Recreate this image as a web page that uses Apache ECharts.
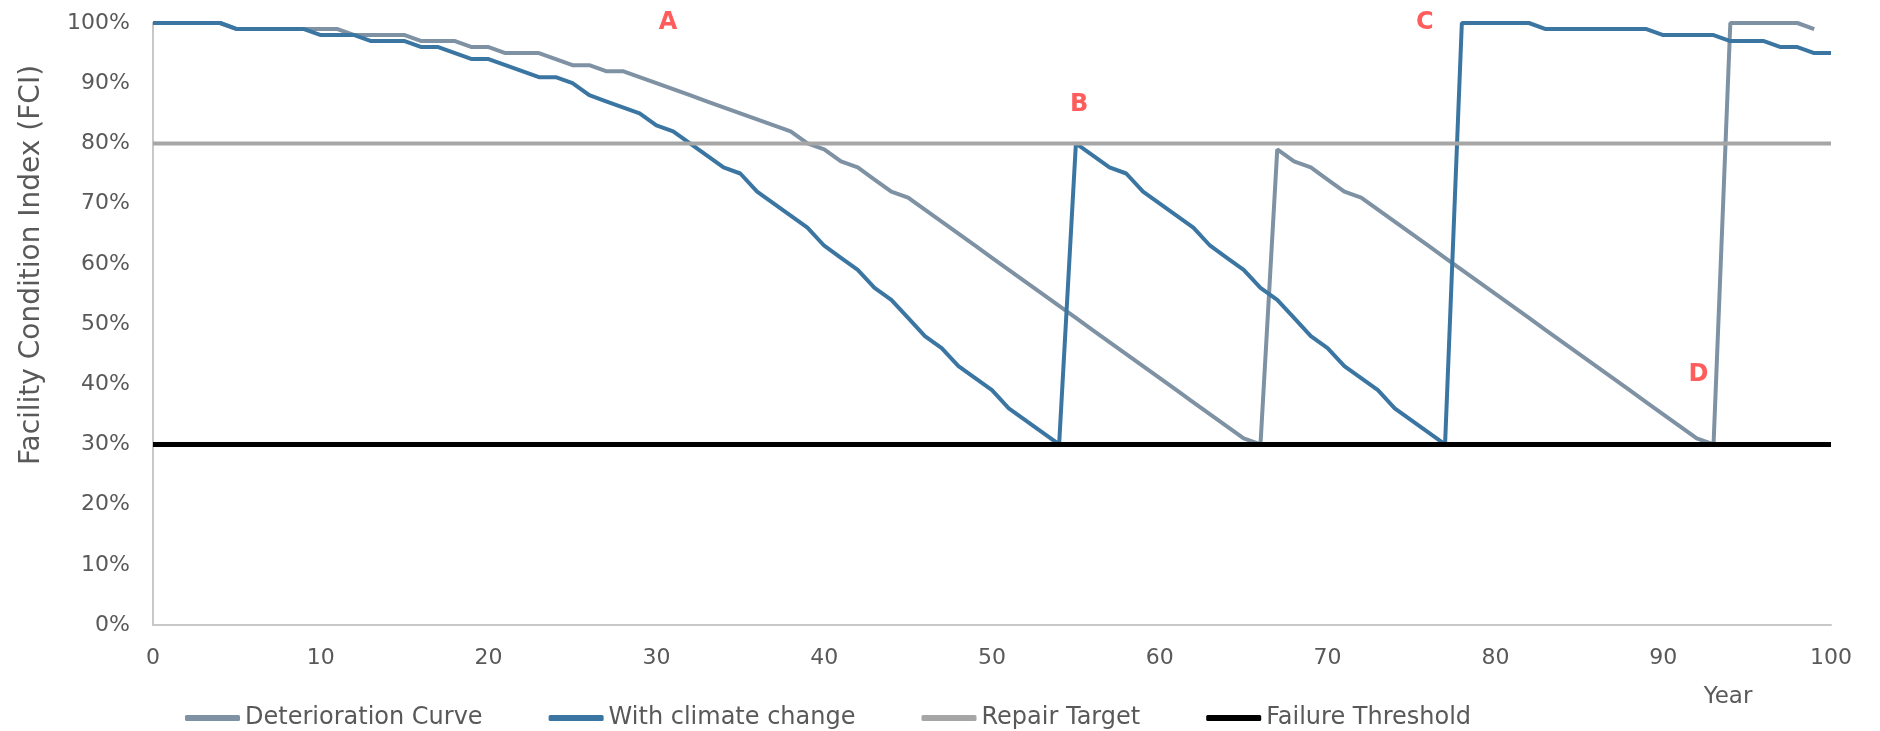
<!DOCTYPE html>
<html>
<head>
<meta charset="utf-8">
<title>Facility Condition Index</title>
<script src="https://cdn.jsdelivr.net/npm/echarts@6/dist/echarts.min.js"></script>
<style>
html, body { margin: 0; padding: 0; background: #fff; }
#main { width: 1880px; height: 731px; }
</style>
</head>
<body>
<div id="main"></div>
<script>
// year on the x axis = index in the arrays below
var deterioration = [
	100, 100, 100, 100, 100, 99, 99, 99, 99, 99,
	99, 99, 98, 98, 98, 98, 97, 97, 97, 96,
	96, 95, 95, 95, 94, 93, 93, 92, 92, 91,
	90, 89, 88, 87, 86, 85, 84, 83, 82, 80,
	79, 77, 76, 74, 72, 71, 69, 67, 65, 63,
	61, 59, 57, 55, 53, 51, 49, 47, 45, 43,
	41, 39, 37, 35, 33, 31, 30, 79, 77, 76,
	74, 72, 71, 69, 67, 65, 63, 61, 59, 57,
	55, 53, 51, 49, 47, 45, 43, 41, 39, 37,
	35, 33, 31, 30, 100, 100, 100, 100, 100, 99
];
var climate = [
	100, 100, 100, 100, 100, 99, 99, 99, 99, 99,
	98, 98, 98, 97, 97, 97, 96, 96, 95, 94,
	94, 93, 92, 91, 91, 90, 88, 87, 86, 85,
	83, 82, 80, 78, 76, 75, 72, 70, 68, 66,
	63, 61, 59, 56, 54, 51, 48, 46, 43, 41,
	39, 36, 34, 32, 30, 80, 78, 76, 75, 72,
	70, 68, 66, 63, 61, 59, 56, 54, 51, 48,
	46, 43, 41, 39, 36, 34, 32, 30, 100, 100,
	100, 100, 100, 99, 99, 99, 99, 99, 99, 99,
	98, 98, 98, 98, 97, 97, 97, 96, 96, 95,
	95
];
var repairTarget = 80;
var failureThreshold = 30;
var seriesNames = ['Deterioration Curve', 'With climate change', 'Repair Target', 'Failure Threshold'];
// letters drawn on the chart: [year, FCI, text]
var notes = [[30.7, 100, 'A'], [55.2, 86.4, 'B'], [75.8, 100, 'C'], [92.1, 41.6, 'D']];
var yearMin = 0, yearMax = 100;

function pairs(arr) {
	return arr.map(function (v, i) { return [i, v]; });
}

var font = 'DejaVu Sans';
var myChart = echarts.init(document.getElementById('main'));

var option = {
	animation: false,
	grid: { left: 153, right: 49, top: 23, bottom: 106 },
	xAxis: {
		type: 'value',
		min: yearMin,
		max: yearMax,
		interval: 10,
		axisLine: { lineStyle: { color: '#c8c8c8', width: 2 } },
		axisTick: { show: false },
		splitLine: { show: false },
		axisLabel: { color: '#595959', fontFamily: font, fontSize: 22, margin: 22 }
	},
	yAxis: {
		type: 'value',
		min: 0,
		max: 100,
		interval: 10,
		axisLine: { show: true, lineStyle: { color: '#c8c8c8', width: 2 } },
		axisTick: { show: false },
		splitLine: { show: false },
		axisLabel: { color: '#595959', fontFamily: font, fontSize: 22, margin: 23, formatter: '{value}%' }
	},
	legend: {
		data: seriesNames,
		left: 180,
		top: 701,
		icon: 'roundRect',
		itemWidth: 55,
		itemHeight: 6,
		itemGap: 66,
		textStyle: { color: '#595959', fontFamily: font, fontSize: 24 }
	},
	graphic: [
		{
			type: 'text',
			x: 32, y: 265,
			rotation: Math.PI / 2,
			style: {
				text: 'Facility Condition Index (FCI)',
				fill: '#595959', font: '28px "DejaVu Sans"',
				align: 'center', verticalAlign: 'middle'
			}
		},
		{
			type: 'text',
			x: 1728, y: 697,
			style: {
				text: 'Year',
				fill: '#595959', font: '23px "DejaVu Sans"',
				align: 'center', verticalAlign: 'middle'
			}
		}
	],
	series: [
		{
			name: seriesNames[0],
			type: 'line',
			data: pairs(deterioration),
			symbol: 'none',
			color: '#7e92a4',
			lineStyle: { width: 4, color: '#7e92a4' }
		},
		{
			name: seriesNames[1],
			type: 'line',
			data: pairs(climate),
			symbol: 'none',
			color: '#3b76a3',
			lineStyle: { width: 4, color: '#3b76a3' }
		},
		{
			name: seriesNames[2],
			type: 'line',
			data: [[yearMin, repairTarget], [yearMax, repairTarget]],
			symbol: 'none',
			color: '#a6a6a6',
			lineStyle: { width: 4, color: '#a6a6a6' }
		},
		{
			name: seriesNames[3],
			type: 'line',
			data: [[yearMin, failureThreshold], [yearMax, failureThreshold]],
			symbol: 'none',
			color: '#000000',
			lineStyle: { width: 5, color: '#000000' }
		},
		{
			name: 'notes',
			type: 'scatter',
			symbolSize: 2,
			itemStyle: { color: 'rgba(0,0,0,0)' },
			data: notes.map(function (n) { return { value: [n[0], n[1]], name: n[2] }; }),
			label: {
				show: true,
				position: 'inside',
				formatter: '{b}',
				color: '#ff3333',
				fontFamily: font,
				fontWeight: 'bold',
				fontSize: 24
			},
			silent: true,
			z: 5
		}
	]
};
myChart.setOption(option);
</script>
</body>
</html>
